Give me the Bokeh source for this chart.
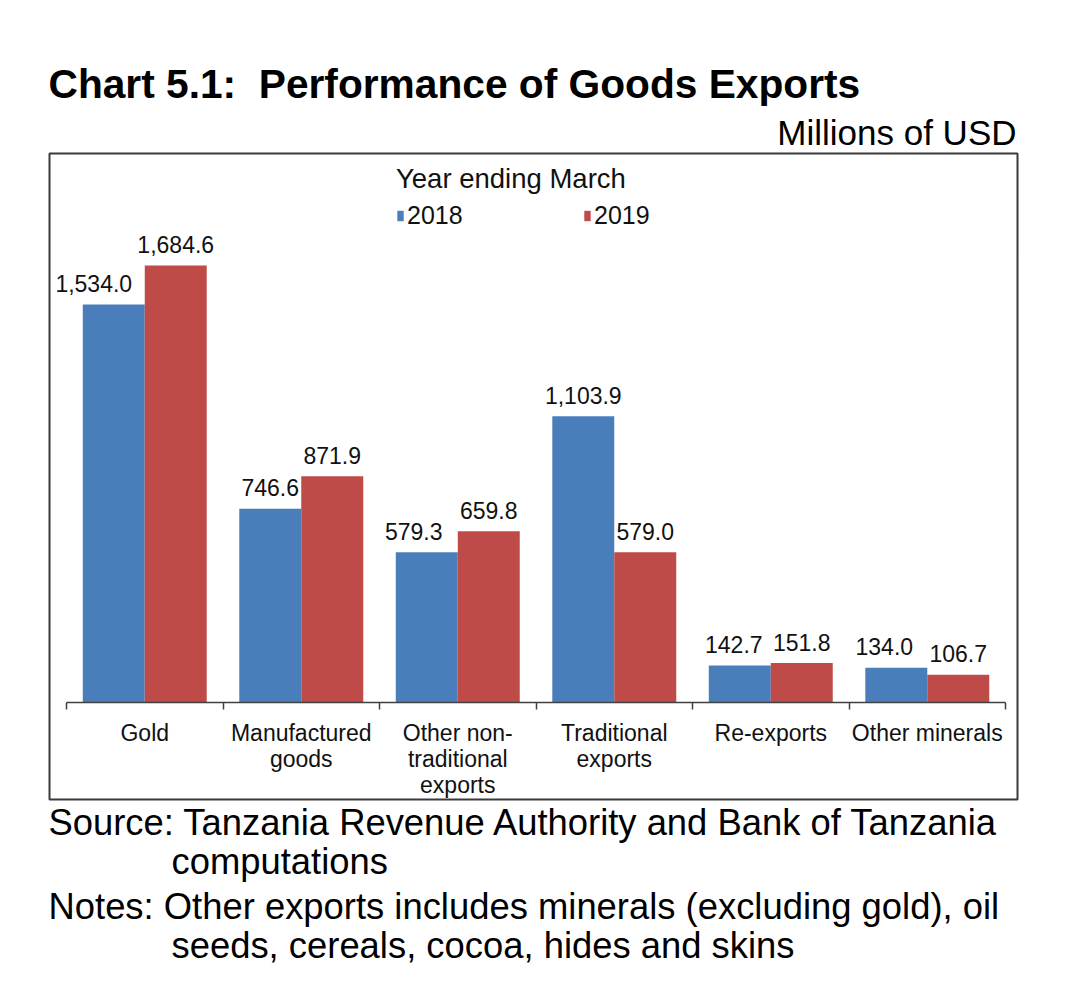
import numpy as np
from bokeh.plotting import figure
from bokeh.models import (LinearAxis, FixedTicker, Range1d, Legend, LegendItem,
                          Label, ColumnDataSource, BoxAnnotation)
from bokeh.core.properties import value
from bokeh.embed import file_html
from bokeh.resources import INLINE

# ---- data ----
categories = ["Gold", "Manufactured goods", "Other non-traditional exports",
              "Traditional exports", "Re-exports", "Other minerals"]
tick_labels = ["Gold", "Manufactured\ngoods", "Other non-\ntraditional\nexports",
               "Traditional\nexports", "Re-exports", "Other minerals"]
values_2018 = [1534.0, 746.6, 579.3, 1103.9, 142.7, 134.0]
values_2019 = [1684.6, 871.9, 659.8, 579.0, 151.8, 106.7]
series_names = ["2018", "2019"]

title_text = "Chart 5.1:\u00a0 Performance of Goods Exports"
unit_text = "Millions of USD"
legend_title = "Year ending March"
source_lines = ["Source: Tanzania Revenue Authority and Bank of Tanzania",
                "computations",
                "Notes: Other exports includes minerals (excluding gold), oil",
                "seeds, cereals, cocoa, hides and skins"]

# ---- styling ----
FONT = "Liberation Sans"
BLUE = "#4a7ebb"
RED = "#be4b48"
BAR_W = 0.396
OFF = 0.198
W, H = 1080, 991
TXT_SHIFT = 13  # label baseline correction
# pixel nudges of the 2018 value labels (collision avoidance, as in the original)
label_nudge_2018 = [-20, 0, -13, 0, -6, -12]

n = len(categories)
centers = np.arange(n) + 0.5
src = ColumnDataSource(dict(
    cat=categories,
    x18=centers - OFF,
    x19=centers + OFF,
    v18=values_2018,
    v19=values_2019,
    t18=[f"{v:,.1f}" for v in values_2018],
    t19=[f"{v:,.1f}" for v in values_2019],
    dx18=label_nudge_2018,
    dx19=[0] * n,
))

# plot frame covers the whole canvas; ranges place the bars inside the boxed area
p = figure(width=W, height=H, output_backend="svg", toolbar_location=None,
           x_axis_type=None, y_axis_type=None,
           x_range=Range1d(-0.4217, 6.479), y_range=Range1d(-1114.1, 2706.2),
           min_border_left=0, min_border_right=0, min_border_top=0,
           min_border_bottom=0)
p.outline_line_color = None
p.background_fill_color = "white"
p.border_fill_color = "white"

# chart box
p.add_layout(BoxAnnotation(left=49, right=1017, top=H - 153, bottom=H - 799,
                           left_units="screen", right_units="screen",
                           top_units="screen", bottom_units="screen",
                           fill_alpha=0, line_color="#3a3a3a", line_alpha=1.0,
                           line_width=2))

r18 = p.vbar(x="x18", top="v18", width=BAR_W, bottom=0, source=src,
             fill_color=BLUE, line_color=None)
r19 = p.vbar(x="x19", top="v19", width=BAR_W, bottom=0, source=src,
             fill_color=RED, line_color=None)

# value labels
for xcol, ycol, tcol, dcol in (("x18", "v18", "t18", "dx18"),
                               ("x19", "v19", "t19", "dx19")):
    p.text(x=xcol, y=ycol, text=tcol, source=src, text_align="center",
           text_baseline="alphabetic", y_offset=-21, x_offset=dcol,
           text_font=value(FONT), text_font_size="23px", text_color="#111111")

# category-boundary tick axis (no labels)
ax_ticks = LinearAxis(ticker=FixedTicker(ticks=list(range(n + 1))),
                      fixed_location=0, bounds=(0, n))
ax_ticks.major_label_overrides = {i: "" for i in range(n + 1)}
ax_ticks.major_tick_in = 0
ax_ticks.major_tick_out = 7
ax_ticks.minor_tick_line_color = None
ax_ticks.axis_line_color = "#404040"
ax_ticks.axis_line_width = 1.5
ax_ticks.major_tick_line_color = "#404040"
ax_ticks.major_tick_line_width = 1.5
p.add_layout(ax_ticks, "below")

# category label axis
ax_labels = LinearAxis(ticker=FixedTicker(ticks=list(centers)), fixed_location=0)
ax_labels.major_label_overrides = {float(c): t for c, t in zip(centers, tick_labels)}
ax_labels.major_label_text_font = FONT
ax_labels.major_label_text_font_size = "23px"
ax_labels.major_label_text_line_height = 1.0
ax_labels.major_label_text_color = "#111111"
ax_labels.major_label_standoff = 12
ax_labels.major_tick_line_color = None
ax_labels.minor_tick_line_color = None
ax_labels.axis_line_color = None
p.add_layout(ax_labels, "below")

# legend
legend = Legend(items=[LegendItem(label=series_names[0], renderers=[r18]),
                       LegendItem(label=series_names[1], renderers=[r19])],
                orientation="horizontal", location=(396, H - 230),
                title=legend_title, title_text_font=FONT,
                title_text_font_size="27.5px", title_text_font_style="normal",
                title_text_color="#111111", title_standoff=6,
                label_text_font=FONT, label_text_font_size="25px",
                label_text_color="#111111",
                glyph_width=8, glyph_height=13, label_standoff=3,
                label_width=166, spacing=10, padding=0, margin=0,
                border_line_color=None, background_fill_alpha=0)
p.add_layout(legend, "center")

# title / unit / source (screen units)
p.add_layout(Label(x=48, y=H - 96 + TXT_SHIFT, x_units="screen", y_units="screen",
                   text=title_text, text_font=FONT, text_font_size="40.7px",
                   text_font_style="bold", text_color="black",
                   text_baseline="alphabetic"))
p.add_layout(Label(x=1016, y=H - 145 + TXT_SHIFT, x_units="screen", y_units="screen",
                   text=unit_text, text_font=FONT, text_font_size="35px",
                   text_color="black", text_align="right",
                   text_baseline="alphabetic"))
src_x = [48, 171, 48, 171]
src_base = [835, 874, 919, 958]
for line, lx, by in zip(source_lines, src_x, src_base):
    p.add_layout(Label(x=lx, y=H - by + TXT_SHIFT, x_units="screen", y_units="screen",
                       text=line, text_font=FONT, text_font_size="36.4px",
                       text_color="black", text_baseline="alphabetic"))

open("out.html", "w").write(file_html(p, INLINE))
